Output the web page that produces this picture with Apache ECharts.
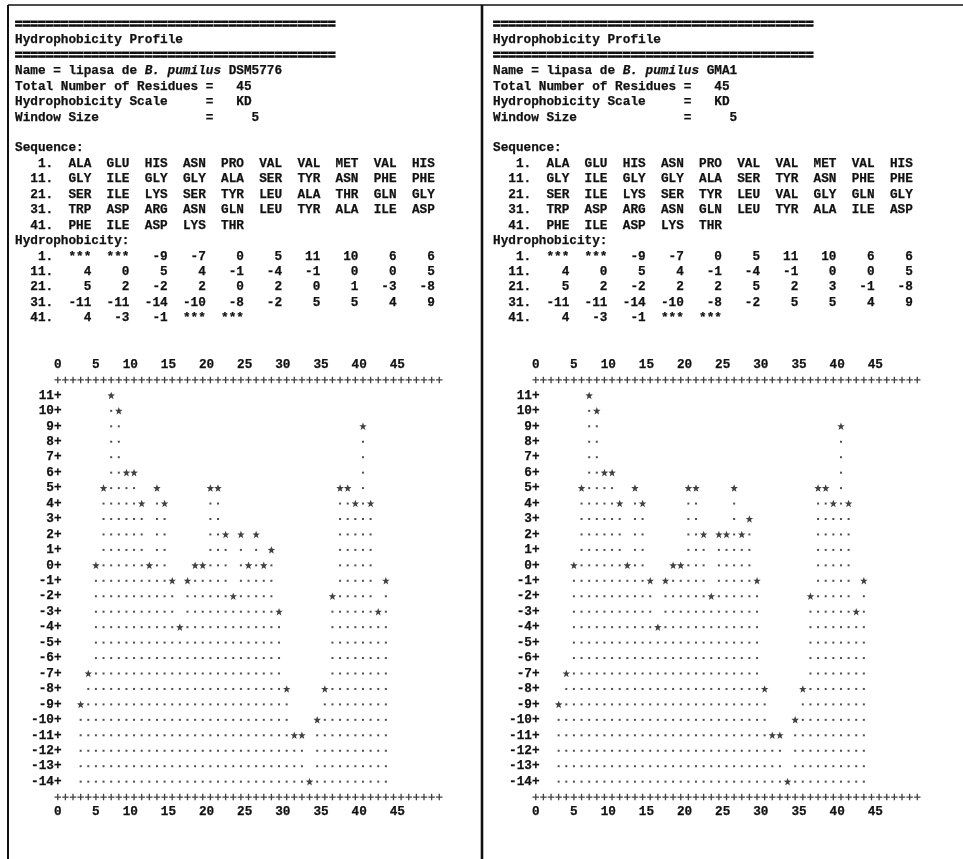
<!DOCTYPE html>
<html>
<head>
<meta charset="utf-8">
<script src="https://cdn.jsdelivr.net/npm/echarts@6/dist/echarts.min.js"></script>
<style>
  html, body { margin: 0; padding: 0; background: #ffffff; }
  #chart { width: 963px; height: 859px; }
</style>
</head>
<body>
<div id="chart"></div>
<script>
// ---- data -------------------------------------------------------------
const seqRowStarts = [1, 11, 21, 31, 41];

const sequenceA = [
  'ALA','GLU','HIS','ASN','PRO','VAL','VAL','MET','VAL','HIS',
  'GLY','ILE','GLY','GLY','ALA','SER','TYR','ASN','PHE','PHE',
  'SER','ILE','LYS','SER','TYR','LEU','ALA','THR','GLN','GLY',
  'TRP','ASP','ARG','ASN','GLN','LEU','TYR','ALA','ILE','ASP',
  'PHE','ILE','ASP','LYS','THR'
];
const sequenceB = [
  'ALA','GLU','HIS','ASN','PRO','VAL','VAL','MET','VAL','HIS',
  'GLY','ILE','GLY','GLY','ALA','SER','TYR','ASN','PHE','PHE',
  'SER','ILE','LYS','SER','TYR','LEU','VAL','GLY','GLN','GLY',
  'TRP','ASP','ARG','ASN','GLN','LEU','TYR','ALA','ILE','ASP',
  'PHE','ILE','ASP','LYS','THR'
];

// null = window not defined at this residue (printed as ***)
const hydroA = [
  null, null, -9, -7, 0, 5, 11, 10, 6, 6,
  4, 0, 5, 4, -1, -4, -1, 0, 0, 5,
  5, 2, -2, 2, 0, 2, 0, 1, -3, -8,
  -11, -11, -14, -10, -8, -2, 5, 5, 4, 9,
  4, -3, -1, null, null
];
const hydroB = [
  null, null, -9, -7, 0, 5, 11, 10, 6, 6,
  4, 0, 5, 4, -1, -4, -1, 0, 0, 5,
  5, 2, -2, 2, 2, 5, 2, 3, -1, -8,
  -11, -11, -14, -10, -8, -2, 5, 5, 4, 9,
  4, -3, -1, null, null
];

const xTickLabels = [0, 5, 10, 15, 20, 25, 30, 35, 40, 45];
const yTickLabels = [11, 10, 9, 8, 7, 6, 5, 4, 3, 2, 1, 0, -1, -2, -3, -4, -5, -6, -7, -8, -9, -10, -11, -12, -13, -14];

// ---- layout: the listing is a fixed character grid --------------------
const PANEL_DX = 478;
const X0 = 15;            // left margin of the listing
const CW = 7.63;          // character advance
const LH = 15.45;         // line pitch
const LINE0_Y = 24.6;     // centre of the first listing line
const lineY = k => LINE0_Y + k * LH;

const FONT_PX = CW / 0.6;
const MONO = '"Liberation Mono", "DejaVu Sans Mono", monospace';
const FONT = 'bold ' + FONT_PX.toFixed(2) + 'px ' + MONO;
const ITAL_FONT = 'italic bold ' + FONT_PX.toFixed(2) + 'px ' + MONO;
const INK = '#111111';

// plot: residue i sits in character column 5 + i, value 11 on line 24
const COL0_X = X0 + 5.5 * CW + 0.8;
const X_MAX = 50, Y_TOP = 12, Y_BOT = -15, Y_FLOOR = -14;
const ROW11_LINE = 24;

const STAR = 'path://M0,-5 L1.3,-1.7 L4.8,-1.6 L2,0.6 L3,4.2 L0,2.1 L-3,4.2 L-2,0.6 L-4.8,-1.6 L-1.3,-1.7 Z';
const PLUS = 'path://M-0.8,-4 L0.8,-4 L0.8,-0.8 L4,-0.8 L4,0.8 L0.8,0.8 L0.8,4 L-0.8,4 L-0.8,0.8 L-4,0.8 L-4,-0.8 L-0.8,-0.8 Z';

// ---- helpers ----------------------------------------------------------
const pad = (s, n) => String(s).padStart(n, ' ');

function starPoints(vals) {
  const pts = [];
  vals.forEach((v, i) => { if (v !== null) pts.push([i + 1, v]); });
  return pts;
}
function dotPoints(vals) {
  const pts = [];
  vals.forEach((v, i) => {
    if (v === null) return;
    for (let y = Y_FLOOR; y < v; y++) pts.push([i + 1, y]);
  });
  return pts;
}
function framePoints() {
  const pts = [];
  for (let c = 0; c <= X_MAX; c++) { pts.push([c, Y_TOP]); pts.push([c, Y_BOT]); }
  return pts;
}
function text(x, y, s, font, extra) {
  return {
    type: 'text', x: x, y: y, silent: true,
    style: Object.assign({
      text: s, font: font || FONT, fill: INK, stroke: INK, lineWidth: 0.25,
      align: 'left', verticalAlign: 'middle'
    }, extra || {})
  };
}

// ---- listing text ------------------------------------------------------
function panelText(ox, seq, hydro, strain) {
  const g = [];
  const x0 = X0 + ox;
  const rule = '='.repeat(42);
  g.push(text(x0, lineY(0), rule, FONT, { lineWidth: 1.1 }));
  g.push(text(x0, lineY(1), 'Hydrophobicity Profile'));
  g.push(text(x0, lineY(2), rule, FONT, { lineWidth: 1.1 }));
  const pre = 'Name = lipasa de ';
  g.push(text(x0, lineY(3), pre));
  g.push(text(x0 + pre.length * CW, lineY(3), 'B. pumilus', ITAL_FONT));
  g.push(text(x0 + (pre.length + 11) * CW, lineY(3), strain));
  g.push(text(x0, lineY(4), 'Total Number of Residues =' + pad(seq.length, 5)));
  g.push(text(x0, lineY(5), 'Hydrophobicity Scale     =' + pad('KD', 5)));
  g.push(text(x0, lineY(6), 'Window Size              =' + pad(5, 6)));

  g.push(text(x0, lineY(8), 'Sequence:'));
  seqRowStarts.forEach((start, r) => {
    const cells = seq.slice(start - 1, start + 9).map(s => pad(s, 5)).join('');
    g.push(text(x0, lineY(9 + r), pad(start, 4) + '.' + cells));
  });
  g.push(text(x0, lineY(14), 'Hydrophobicity:'));
  seqRowStarts.forEach((start, r) => {
    const cells = hydro.slice(start - 1, start + 9).map(v => pad(v === null ? '***' : v, 5)).join('');
    g.push(text(x0, lineY(15 + r), pad(start, 4) + '.' + cells));
  });
  return g;
}

// ---- chart -------------------------------------------------------------
const panels = [
  { ox: 0, seq: sequenceA, hydro: hydroA, strain: 'DSM5776' },
  { ox: PANEL_DX, seq: sequenceB, hydro: hydroB, strain: 'GMA1' }
];

const grids = [], xAxes = [], yAxes = [], series = [];
let graphics = [
  { type: 'line', silent: true, shape: { x1: 8, y1: 5, x2: 963, y2: 5 }, style: { stroke: INK, lineWidth: 1.6 } },
  { type: 'line', silent: true, shape: { x1: 8, y1: 5, x2: 8, y2: 859 }, style: { stroke: INK, lineWidth: 2 } },
  { type: 'line', silent: true, shape: { x1: 482, y1: 5, x2: 482, y2: 859 }, style: { stroke: INK, lineWidth: 2.6 } }
];

const labelStyle = {
  color: INK, fontFamily: MONO, fontWeight: 'bold', fontSize: FONT_PX,
  textBorderColor: INK, textBorderWidth: 0.25
};

const gridTop = lineY(ROW11_LINE - (Y_TOP - 11));
const gridHeight = (Y_TOP - Y_BOT) * LH;

panels.forEach((p, k) => {
  grids.push({
    left: COL0_X + p.ox,
    top: gridTop,
    width: X_MAX * CW,
    height: gridHeight,
    containLabel: false
  });
  ['bottom', 'top'].forEach(pos => {
    xAxes.push({
      type: 'value', gridIndex: k, position: pos, min: 0, max: X_MAX, interval: 5,
      axisLine: { show: false }, axisTick: { show: false }, splitLine: { show: false },
      axisLabel: Object.assign({
        margin: 8.5,
        showMinLabel: true, showMaxLabel: true,
        // numbers end in their own column, as in the printed ruler
        formatter: v => (xTickLabels.indexOf(v) >= 0 ? (v >= 10 ? v + ' ' : String(v)) : '')
      }, labelStyle)
    });
  });
  yAxes.push({
    type: 'value', gridIndex: k, min: Y_BOT, max: Y_TOP, interval: 1,
    axisLine: { show: false }, axisTick: { show: false }, splitLine: { show: false },
    axisLabel: Object.assign({
      margin: -CW / 2,
      formatter: v => (yTickLabels.indexOf(v) >= 0 ? v + '+' : '')
    }, labelStyle)
  });
  const common = { type: 'scatter', xAxisIndex: 2 * k, yAxisIndex: k, silent: true, animation: false, clip: false };
  series.push(Object.assign({}, common, {
    name: 'frame' + k, symbol: PLUS, symbolSize: 6.5, itemStyle: { color: INK }, data: framePoints()
  }));
  series.push(Object.assign({}, common, {
    name: 'fill' + k, symbol: 'rect', symbolSize: [2, 2], itemStyle: { color: '#222222' }, data: dotPoints(p.hydro)
  }));
  series.push(Object.assign({}, common, {
    name: 'profile' + k, symbol: STAR, symbolSize: 7.5, itemStyle: { color: INK }, data: starPoints(p.hydro)
  }));
  graphics = graphics.concat(panelText(p.ox, p.seq, p.hydro, p.strain));
});

const chart = echarts.init(document.getElementById('chart'), null, { renderer: 'canvas', width: 963, height: 859 });
chart.setOption({
  backgroundColor: '#ffffff',
  animation: false,
  grid: grids,
  xAxis: xAxes,
  yAxis: yAxes,
  series: series,
  graphic: graphics
});
</script>
</body>
</html>
